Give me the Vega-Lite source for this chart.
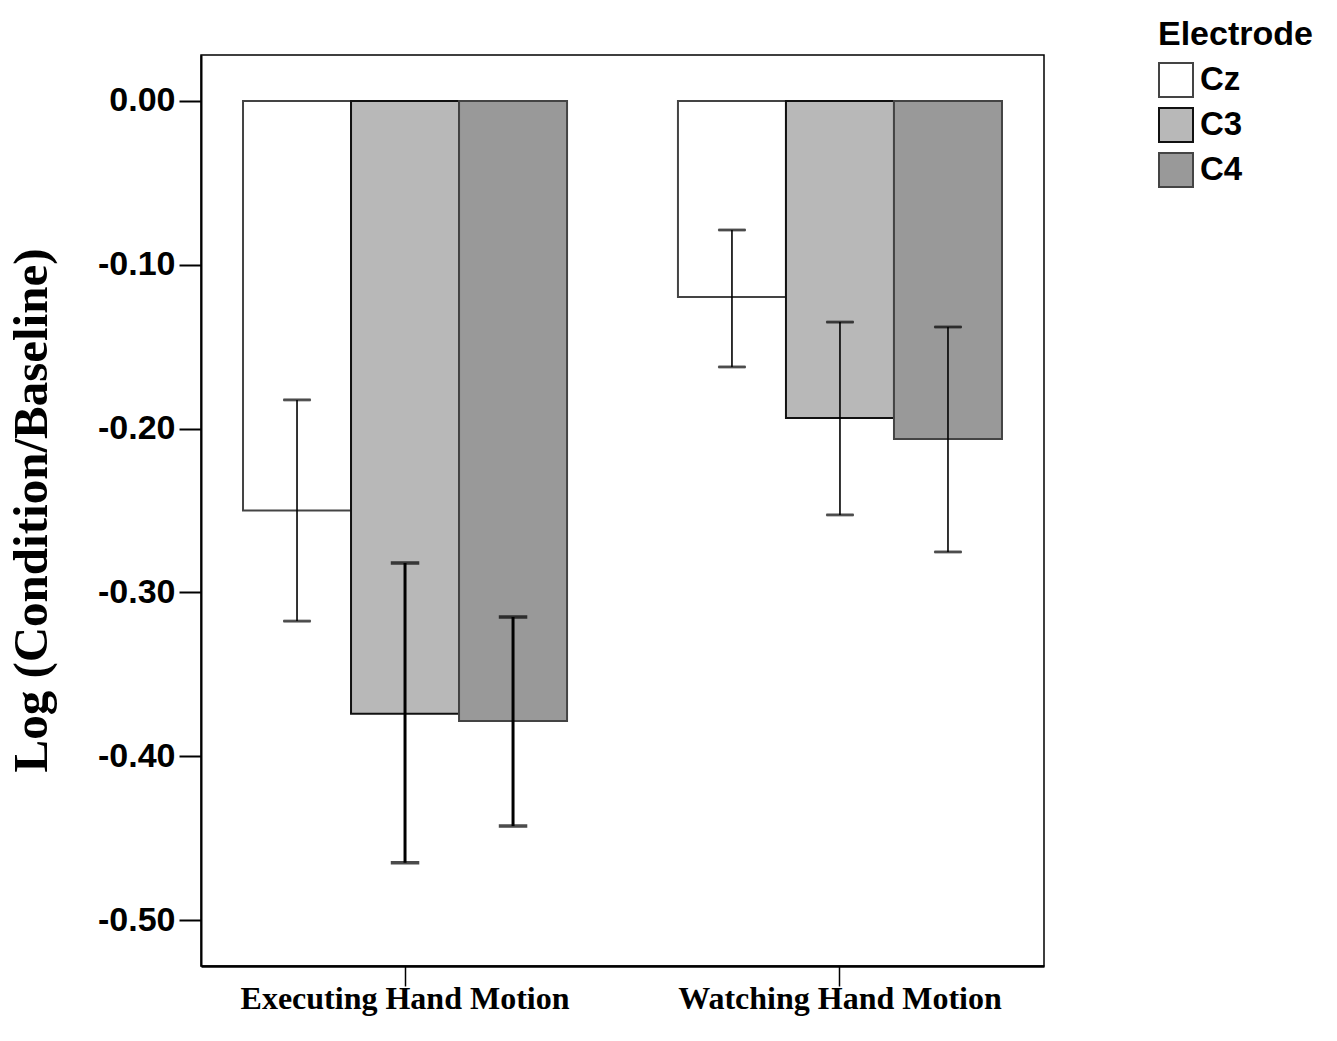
{
  "$schema": "https://vega.github.io/schema/vega-lite/v6.json",
  "width": 843,
  "height": 911,
  "autosize": {"type": "none"},
  "padding": {"left": 201, "top": 55, "right": 293, "bottom": 75},
  "background": "white",
  "config": {
    "view": {"stroke": "#000", "strokeWidth": 1.5},
    "axis": {"grid": false}
  },
  "data": {
    "values": [
      {"group": "Executing Hand Motion", "electrode": "Cz", "mean": -0.250, "hi": -0.1825, "lo": -0.3175},
      {"group": "Executing Hand Motion", "electrode": "C3", "mean": -0.374, "hi": -0.282, "lo": -0.465},
      {"group": "Executing Hand Motion", "electrode": "C4", "mean": -0.3785, "hi": -0.315, "lo": -0.4426},
      {"group": "Watching Hand Motion", "electrode": "Cz", "mean": -0.1197, "hi": -0.0788, "lo": -0.1624},
      {"group": "Watching Hand Motion", "electrode": "C3", "mean": -0.1935, "hi": -0.135, "lo": -0.2527},
      {"group": "Watching Hand Motion", "electrode": "C4", "mean": -0.2063, "hi": -0.138, "lo": -0.2753}
    ]
  },
  "encoding": {
    "x": {
      "field": "group",
      "type": "nominal",
      "sort": ["Executing Hand Motion", "Watching Hand Motion"],
      "scale": {"paddingInner": 0.255, "paddingOuter": 0.0966},
      "axis": {
        "title": null,
        "labelAngle": 0,
        "labelLimit": 0,
        "labelFont": "Liberation Serif",
        "labelFontWeight": "bold",
        "labelFontSize": 32,
        "labelColor": "#000",
        "labelPadding": -3,
        "labelBaseline": "top",
        "tickSize": 20,
        "tickColor": "#000",
        "tickWidth": 1.5,
        "domainColor": "#000",
        "domainWidth": 2.5
      }
    },
    "xOffset": {
      "field": "electrode",
      "type": "nominal",
      "sort": ["Cz", "C3", "C4"],
      "scale": {"paddingInner": 0, "paddingOuter": 0}
    }
  },
  "layer": [
    {
      "mark": {"type": "bar", "strokeWidth": 2},
      "encoding": {
        "y": {
          "field": "mean",
          "type": "quantitative",
          "scale": {"domain": [-0.528, 0.028], "nice": false},
          "axis": {
            "title": "Log (Condition/Baseline)",
            "values": [0, -0.1, -0.2, -0.3, -0.4, -0.5],
            "labelExpr": "replace(format(datum.value, '.2f'), '\u2212', '-')",
            "labelFont": "Liberation Sans",
            "labelFontWeight": "bold",
            "labelFontSize": 34,
            "labelColor": "#000",
            "labelPadding": 4,
            "tickSize": 22,
            "tickWidth": 2,
            "tickColor": "#000",
            "domainColor": "#000",
            "domainWidth": 2,
            "titleFont": "Liberation Serif",
            "titleFontWeight": "bold",
            "titleFontSize": 49,
            "titleColor": "#000",
            "titleX": -170,
            "titleY": 455,
            "titleAngle": -90,
            "titleAlign": "center",
            "titleBaseline": "middle"
          }
        },
        "fill": {
          "field": "electrode",
          "type": "nominal",
          "scale": {"domain": ["Cz", "C3", "C4"], "range": ["#ffffff", "#b8b8b8", "#999999"]},
          "legend": {
            "title": "Electrode",
            "orient": "none",
            "legendX": 957,
            "legendY": -37,
            "padding": 0,
            "titleFont": "Liberation Sans",
            "titleFontWeight": "bold",
            "titleFontSize": 34,
            "titleColor": "#000",
            "titlePadding": 10,
            "labelFont": "Liberation Sans",
            "labelFontWeight": "bold",
            "labelFontSize": 33,
            "labelColor": "#000",
            "labelOffset": 6,
            "symbolType": "square",
            "symbolSize": 1156,
            "symbolStrokeColor": "#333",
            "symbolStrokeWidth": 2,
            "rowPadding": 3
          }
        },
        "stroke": {
          "field": "electrode",
          "type": "nominal",
          "scale": {"domain": ["Cz", "C3", "C4"], "range": ["#444444", "#111111", "#444444"]},
          "legend": null
        }
      }
    },
    {
      "mark": {"type": "rule", "color": "#000"},
      "encoding": {
        "y": {"field": "lo", "type": "quantitative"},
        "y2": {"field": "hi"},
        "strokeWidth": {
          "condition": {"test": "datum.group === 'Executing Hand Motion' && datum.electrode !== 'Cz'", "value": 3},
          "value": 1.6
        }
      }
    },
    {
      "mark": {"type": "tick", "orient": "horizontal", "size": 27, "thickness": 2, "color": "#000", "stroke": "#000"},
      "encoding": {
        "y": {"field": "lo", "type": "quantitative"},
        "strokeWidth": {
          "condition": {"test": "datum.group === 'Executing Hand Motion' && datum.electrode !== 'Cz'", "value": 1.5},
          "value": 0.8
        }
      }
    },
    {
      "mark": {"type": "tick", "orient": "horizontal", "size": 27, "thickness": 2, "color": "#000", "stroke": "#000"},
      "encoding": {
        "y": {"field": "hi", "type": "quantitative"},
        "strokeWidth": {
          "condition": {"test": "datum.group === 'Executing Hand Motion' && datum.electrode !== 'Cz'", "value": 1.5},
          "value": 0.8
        }
      }
    }
  ]
}
